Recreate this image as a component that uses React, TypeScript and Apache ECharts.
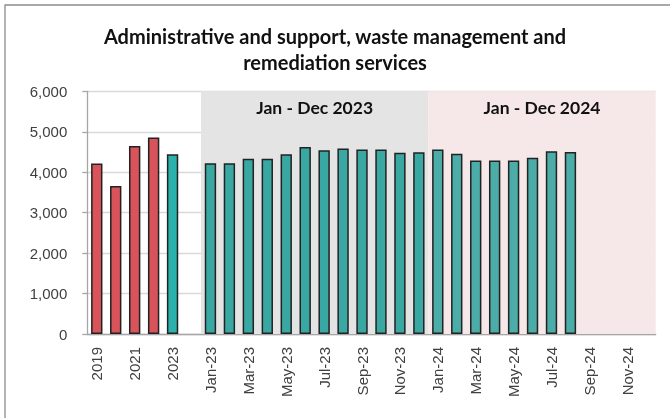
import React, { useEffect, useRef } from "react";
import * as echarts from "echarts";

const titleText = "Administrative and support, waste management and\nremediation services";
const annualLabels = ["2019", "2020", "2021", "2022", "2023"];
const annualValues = [4215, 3660, 4650, 4860, 4445];
const months2023 = ["Jan-23", "Feb-23", "Mar-23", "Apr-23", "May-23", "Jun-23", "Jul-23", "Aug-23", "Sep-23", "Oct-23", "Nov-23", "Dec-23"];
const values2023 = [4220, 4220, 4330, 4330, 4445, 4625, 4545, 4585, 4560, 4560, 4478, 4495];
const months2024 = ["Jan-24", "Feb-24", "Mar-24", "Apr-24", "May-24", "Jun-24", "Jul-24", "Aug-24", "Sep-24", "Oct-24", "Nov-24", "Dec-24"];
const values2024 = [4560, 4455, 4290, 4290, 4290, 4355, 4520, 4500];
const bandLabels = ["Jan - Dec 2023", "Jan - Dec 2024"];
const yTicks = { min: 0, max: 6000, interval: 1000 };

export default function App() {
  const ref = useRef<HTMLDivElement>(null);
  useEffect(() => {
    if (!ref.current) return;
    const chart = echarts.init(ref.current, null, { renderer: "svg" });
    const categories = [...annualLabels, "", ...months2023, ...months2024];
    const redCount = annualLabels.length - 1;
    const data: any[] = [];
    annualValues.forEach((v, i) =>
      data.push({ value: v, itemStyle: { color: i < redCount ? "#d9535a" : "#2bb2ac" } })
    );
    data.push("-");
    values2023.forEach((v) => data.push({ value: v, itemStyle: { color: "#3aa8a2" } }));
    months2024.forEach((_, i) =>
      data.push(i < values2024.length ? { value: values2024[i], itemStyle: { color: "#4baca8" } } : "-")
    );
    const start23 = annualLabels.length + 1;
    const start24 = start23 + months2023.length;
    const end24 = start24 + months2024.length;
    const bandLabel = {
      show: true,
      position: "insideTop",
      distance: 7,
      fontFamily: "Lato",
      fontWeight: "bold",
      fontSize: 17.5,
      color: "#111",
    };
    chart.setOption({
      animation: false,
      title: {
        text: titleText,
        left: "center",
        top: 18,
        textStyle: {
          fontFamily: "Lato",
          fontWeight: "bold",
          fontSize: 20,
          lineHeight: 26,
          color: "#111",
        },
      },
      graphic: [
        {
          type: "rect",
          shape: { x: 5, y: 5, width: 720, height: 460 },
          style: { fill: "none", stroke: "#8c8c8c", lineWidth: 1.3 },
          silent: true,
        },
      ],
      grid: { left: 87.3, right: 14.3, top: 91.3, bottom: 84 },
      xAxis: [
        {
          type: "category",
          data: categories,
          axisLine: { lineStyle: { color: "#a6a6a6", width: 1.3 } },
          axisTick: { interval: 0, length: 5, lineStyle: { color: "#a6a6a6", width: 1.3 } },
          axisLabel: {
            interval: 1,
            rotate: 90,
            margin: 13,
            fontFamily: "Liberation Sans",
            fontSize: 15,
            color: "#404040",
          },
        },
        { type: "value", min: 0, max: end24, show: false },
      ],
      yAxis: {
        type: "value",
        min: yTicks.min,
        max: yTicks.max,
        interval: yTicks.interval,
        axisLine: { show: true, lineStyle: { color: "#a6a6a6", width: 1.3 } },
        axisTick: { show: true, length: 5, lineStyle: { color: "#a6a6a6", width: 1.3 } },
        splitLine: { lineStyle: { color: "#d9d9d9", width: 1.3 } },
        axisLabel: {
          margin: 20,
          fontFamily: "Liberation Sans",
          fontSize: 15,
          color: "#404040",
          formatter: (v: number) => v.toLocaleString("en-US"),
        },
      },
      series: [
        {
          type: "line",
          xAxisIndex: 1,
          data: [],
          z: -1,
          silent: true,
          markArea: {
            silent: true,
            data: [
              [
                { coord: [start23, yTicks.max], name: bandLabels[0], itemStyle: { color: "#e4e4e4" }, label: bandLabel },
                { coord: [start24, yTicks.min] },
              ],
              [
                { coord: [start24, yTicks.max], name: bandLabels[1], itemStyle: { color: "#f6e8e8" }, label: bandLabel },
                { coord: [end24, yTicks.min] },
              ],
            ],
          },
        },
        {
          type: "bar",
          data,
          barWidth: "60%",
          itemStyle: { borderColor: "#222", borderWidth: 1.5 },
        },
      ],
    });
    return () => chart.dispose();
  }, []);
  return <div ref={ref} style={{ position: "fixed", left: 0, top: 0, width: 670, height: 418 }} />;
}
